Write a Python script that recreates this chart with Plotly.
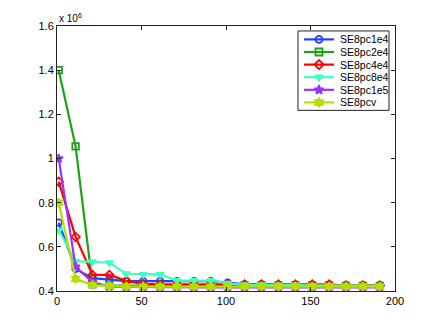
import plotly.graph_objects as go

# iterations sampled every 10 steps
x_iter = [1, 11, 21, 31, 41, 51, 61, 71, 81, 91, 101, 111, 121, 131, 141, 151, 161, 171, 181, 191]

se8pc1e4 = [0.71, 0.50, 0.458, 0.45, 0.445, 0.445, 0.445, 0.445, 0.445, 0.445, 0.438, 0.43, 0.43, 0.428, 0.428, 0.427, 0.427, 0.425, 0.425, 0.425]
se8pc2e4 = [1.40, 1.055, 0.43, 0.425, 0.425, 0.425, 0.425, 0.425, 0.425, 0.425, 0.425, 0.425, 0.425, 0.425, 0.425, 0.425, 0.425, 0.423, 0.423, 0.423]
se8pc4e4 = [0.895, 0.645, 0.473, 0.473, 0.446, 0.432, 0.43, 0.43, 0.43, 0.43, 0.43, 0.43, 0.43, 0.43, 0.43, 0.43, 0.43, 0.425, 0.425, 0.425]
se8pc8e4 = [0.675, 0.535, 0.532, 0.528, 0.478, 0.475, 0.475, 0.447, 0.447, 0.447, 0.435, 0.428, 0.428, 0.427, 0.427, 0.425, 0.425, 0.423, 0.423, 0.423]
se8pc1e5 = [1.00, 0.51, 0.44, 0.42, 0.418, 0.417, 0.416, 0.416, 0.416, 0.416, 0.416, 0.416, 0.416, 0.416, 0.416, 0.416, 0.416, 0.416, 0.416, 0.416]
se8pcv = [0.80, 0.455, 0.427, 0.423, 0.42, 0.42, 0.42, 0.42, 0.42, 0.42, 0.42, 0.42, 0.42, 0.42, 0.42, 0.42, 0.42, 0.42, 0.42, 0.42]

y_ticks = [0.4, 0.6, 0.8, 1.0, 1.2, 1.4, 1.6]
y_tick_text = ["0.4", "0.6", "0.8", "1", "1.2", "1.4", "1.6"]
x_ticks = [0, 50, 100, 150, 200]

series = [
    ("SE8pc1e4", se8pc1e4, "#2040ff", "circle-open"),
    ("SE8pc2e4", se8pc2e4, "#1ea01a", "square-open"),
    ("SE8pc4e4", se8pc4e4, "#ff0000", "diamond-open"),
    ("SE8pc8e4", se8pc8e4, "#40ffc0", "triangle-down"),
    ("SE8pc1e5", se8pc1e5, "#9933ff", "star"),
    ("SE8pcv", se8pcv, "#b3e000", "hexagram"),
]

# page has an 8px body margin, so figure is 8px smaller and shifted
W, H = 428, 320
L, R, T, B = 49, 387, 16, 283
# compact MATLAB-style legend, in pixel units of the plot area (hidden overlay axis)
box = (298, 389, 29, 109)
row_y0, row_dy = 37.5, 12.7
sample_x = (304, 334)
text_x = 338

fig = go.Figure()
for name, vals, color, sym in series:
    fig.add_trace(go.Scatter(
        x=x_iter, y=[v * 1e6 for v in vals], name=name, mode="lines+markers",
        line=dict(color=color, width=2.2),
        marker=dict(symbol=sym, size=6.5, color=color, line=dict(color=color, width=1.8)),
        showlegend=False,
    ))

fig.add_shape(type="rect", xref="x2", yref="y2", x0=box[0], x1=box[1], y0=box[2], y1=box[3],
              line=dict(color="#222", width=1), fillcolor="white", layer="below")
for i, (name, vals, color, sym) in enumerate(series):
    yy = row_y0 + i * row_dy
    fig.add_trace(go.Scatter(
        x=list(sample_x), y=[yy, yy], xaxis="x2", yaxis="y2", mode="lines",
        line=dict(color=color, width=2.2), showlegend=False, hoverinfo="skip",
    ))
    fig.add_trace(go.Scatter(
        x=[sum(sample_x) / 2], y=[yy], xaxis="x2", yaxis="y2", mode="markers",
        marker=dict(symbol=sym, size=7, color=color, line=dict(color=color, width=1.8)),
        showlegend=False, hoverinfo="skip",
    ))
    fig.add_annotation(text=name, xref="x2", yref="y2", x=text_x, y=yy, xanchor="left",
                       yanchor="middle", showarrow=False, font=dict(size=10.5, color="#000"))

axis = dict(showgrid=False, zeroline=False, showline=True, linecolor="#222", linewidth=1,
            mirror="ticks", ticks="inside", ticklen=4, tickcolor="#222",
            tickfont=dict(size=11, color="#000"))
hidden = dict(visible=False, showgrid=False, zeroline=False, fixedrange=True)
fig.update_layout(
    width=W, height=H, paper_bgcolor="white", plot_bgcolor="white",
    font=dict(family="Liberation Sans, Arial, sans-serif", color="#000"),
    margin=dict(l=L, r=W - R, t=T, b=H - B),
    xaxis=dict(**axis, range=[0, 200], tickvals=x_ticks),
    yaxis=dict(**axis, range=[0.4e6, 1.6e6], tickvals=[v * 1e6 for v in y_ticks], ticktext=y_tick_text),
    xaxis2=dict(**hidden, overlaying="x", range=[57, 395]),
    yaxis2=dict(**hidden, overlaying="y", range=[291, 24]),
    showlegend=False,
)
fig.add_annotation(text="x 10<sup>6</sup>", xref="paper", yref="paper", x=0, y=1,
                   xanchor="left", yanchor="bottom", showarrow=False, font=dict(size=10))
fig.write_html("out.html")
